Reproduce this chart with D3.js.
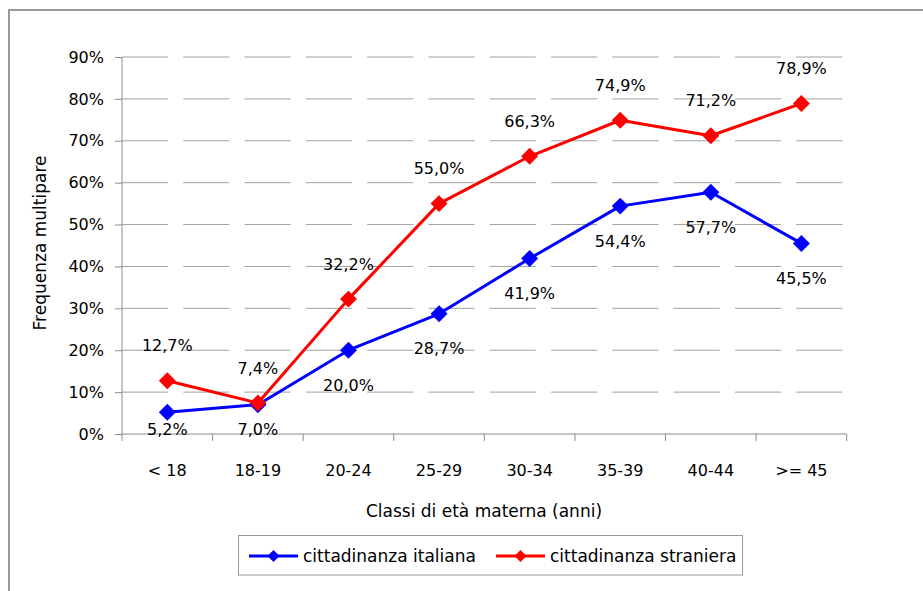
<!DOCTYPE html>
<html>
<head>
<meta charset="utf-8">
<script src="https://cdn.jsdelivr.net/npm/d3@7"></script>
<style>
  body { margin: 0; background: #fff; }
  svg { display: block; }
  .tick text { font-family: 'DejaVu Sans', Verdana, sans-serif; font-size: 16px; fill: #000; }
  .ttl { font-family: 'Comic Sans MS', 'DejaVu Sans', sans-serif; font-size: 17px; fill: #000; }
  .lbl { font-family: 'DejaVu Sans', Verdana, sans-serif; font-size: 16px; fill: #000; }
</style>
</head>
<body>
<div id="chart"></div>
<script>
// dati
var classi = ['< 18', '18-19', '20-24', '25-29', '30-34', '35-39', '40-44', '>= 45']
var italiana = [5.2, 7.0, 20.0, 28.7, 41.9, 54.4, 57.7, 45.5]
var straniera = [12.7, 7.4, 32.2, 55.0, 66.3, 74.9, 71.2, 78.9]
var yTicks = [0, 10, 20, 30, 40, 50, 60, 70, 80, 90]
var serie = [
  { name: 'cittadinanza italiana', values: italiana, color: '#0000ff', below: true },
  { name: 'cittadinanza straniera', values: straniera, color: '#ff0000', below: false }
]

var w = 923
var h = 591

var svg = d3.select('#chart').append('svg')
  .attr('width', w)
  .attr('height', h)

// cornice esterna (tagliata a destra e in basso)
svg.append('rect')
  .attr('x', 9).attr('y', 10)
  .attr('width', 940).attr('height', 620)
  .attr('fill', 'none')
  .attr('stroke', '#9a9a9a')
  .attr('stroke-width', 2)

var pLeft = 122
var pRight = 846.7
var pTop = 57
var pBottom = 434

var x = d3.scaleBand().domain(classi).range([pLeft, pRight]).padding(0)
var y = d3.scaleLinear().domain([0, 90]).range([pBottom, pTop])

// griglia tratteggiata
svg.append('g').selectAll('line')
  .data(yTicks.filter(function (d) { return d > 0 }))
  .enter().append('line')
  .attr('x1', pLeft).attr('x2', pRight)
  .attr('y1', function (d) { return y(d) }).attr('y2', function (d) { return y(d) })
  .attr('stroke', '#a0a0a0')
  .attr('stroke-width', 1)
  .attr('stroke-dasharray', '46,15.3')

// asse y
var yAxis = svg.append('g')
  .attr('transform', 'translate(' + pLeft + ',0)')
  .call(d3.axisLeft(y).tickValues(yTicks).tickSize(7).tickPadding(11)
    .tickFormat(function (d) { return d + '%' }))
yAxis.select('.domain').attr('stroke', '#8c8c8c').attr('d', 'M0,' + pBottom + 'V' + pTop)
yAxis.selectAll('.tick line').attr('stroke', '#8c8c8c')

// asse x
var xAxis = svg.append('g')
  .attr('transform', 'translate(0,' + pBottom + ')')
  .call(d3.axisBottom(x).tickSize(0).tickPadding(31))
xAxis.select('.domain').attr('stroke', '#8c8c8c')
  .attr('d', 'M' + pLeft + ',0H' + pRight)

var edges = classi.map(function (c) { return x(c) }).concat([pRight])
xAxis.selectAll('.edge').data(edges).enter().append('line')
  .attr('class', 'edge')
  .attr('x1', function (d) { return d }).attr('x2', function (d) { return d })
  .attr('y1', 0).attr('y2', 7)
  .attr('stroke', '#8c8c8c')

// titoli assi
svg.append('text').attr('class', 'ttl')
  .attr('x', 484).attr('y', 511)
  .attr('text-anchor', 'middle').attr('dy', '0.35em')
  .text('Classi di età materna (anni)')

svg.append('text').attr('class', 'ttl')
  .attr('transform', 'translate(40,243) rotate(-90)')
  .attr('text-anchor', 'middle').attr('dy', '0.35em')
  .text('Frequenza multipare')

var cx = function (i) { return x(classi[i]) + x.bandwidth() / 2 }
var line = d3.line()
  .x(function (d, i) { return cx(i) })
  .y(function (d) { return y(d) })

var diamond = d3.symbol().type(d3.symbolSquare).size(144)

serie.forEach(function (s) {
  var g = svg.append('g')
  g.append('path')
    .datum(s.values)
    .attr('d', line)
    .attr('fill', 'none')
    .attr('stroke', s.color)
    .attr('stroke-width', 3)
    .attr('stroke-linejoin', 'round')

  g.selectAll('.pt').data(s.values).enter().append('path')
    .attr('class', 'pt')
    .attr('d', diamond)
    .attr('transform', function (d, i) { return 'translate(' + cx(i) + ',' + y(d) + ') rotate(45)' })
    .attr('fill', s.color)

  g.selectAll('.lbl').data(s.values).enter().append('text')
    .attr('class', 'lbl')
    .attr('x', function (d, i) { return cx(i) })
    .attr('y', function (d) {
      var yy = s.below ? y(d) + 35 : y(d) - 35
      return Math.min(yy, pBottom - 5)
    })
    .attr('text-anchor', 'middle')
    .attr('dy', '0.35em')
    .text(function (d) { return d.toFixed(1).replace('.', ',') + '%' })
})

// legenda
var leg = svg.append('g')
leg.append('rect')
  .attr('x', 238.5).attr('y', 535.5)
  .attr('width', 504).attr('height', 39.5)
  .attr('fill', '#fff')
  .attr('stroke', '#9a9a9a')
  .attr('stroke-width', 1)

var legX = [249, 496]
var smallDiamond = d3.symbol().type(d3.symbolSquare).size(72)
serie.forEach(function (s, i) {
  var lg = leg.append('g').attr('transform', 'translate(' + legX[i] + ',556)')
  lg.append('line').attr('x1', 0).attr('x2', 49).attr('y1', 0).attr('y2', 0)
    .attr('stroke', s.color).attr('stroke-width', 3)
  lg.append('path').attr('d', smallDiamond)
    .attr('transform', 'translate(24.5,0) rotate(45)')
    .attr('fill', s.color)
  lg.append('text').attr('class', 'ttl')
    .attr('x', 54).attr('y', 0).attr('dy', '0.35em')
    .text(s.name)
})
</script>
</body>
</html>
